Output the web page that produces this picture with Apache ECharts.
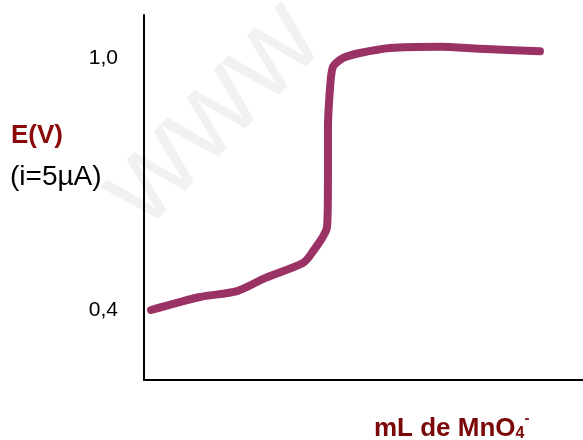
<!DOCTYPE html>
<html>
<head>
<meta charset="utf-8">
<script src="https://cdn.jsdelivr.net/npm/echarts@6/dist/echarts.min.js"></script>
<style>
  html, body { margin: 0; padding: 0; background: #fff; }
  #chart { width: 583px; height: 440px; }
</style>
</head>
<body>
<div id="chart"></div>
<script>
// volume de MnO4- (unités arbitraires) et potentiel E(V)
var volume = [0.32, 2.55, 4.24, 5.51, 7.24, 7.65, 8.34, 8.38, 8.38, 8.47, 8.61, 9.07, 9.84, 11.21, 13.49, 15.31, 18.04];
var potentiel = [0.400, 0.431, 0.445, 0.476, 0.512, 0.536, 0.598, 0.710, 0.829, 0.924, 0.979, 1.000, 1.012, 1.024, 1.027, 1.022, 1.016];
var yTicks = [0.4, 1.0];
var yTickLabels = ['0,4', '1,0'];

var points = volume.map(function (v, i) {
  return [v, potentiel[i]];
});

var font = 'Liberation Sans, Arial, sans-serif';
var myChart = echarts.init(document.getElementById('chart'), null, { renderer: 'canvas' });

myChart.setOption({
  backgroundColor: '#fff',
  animation: false,
  textStyle: { fontFamily: font },
  grid: { left: 144, right: 0, top: 15, bottom: 60 },
  xAxis: {
    type: 'value',
    min: 0,
    max: 20,
    axisLine: { show: true, lineStyle: { color: '#000', width: 2 } },
    axisTick: { show: false },
    axisLabel: { show: false },
    splitLine: { show: false }
  },
  yAxis: {
    type: 'value',
    min: 0.2333,
    max: 1.1024,
    axisLine: { show: true, lineStyle: { color: '#000', width: 2 } },
    axisTick: { show: false },
    splitLine: { show: false },
    axisLabel: {
      customValues: yTicks,
      margin: 26,
      fontSize: 21,
      color: '#000',
      formatter: function (val) {
        var i = yTicks.findIndex(function (t) { return Math.abs(t - val) < 1e-6; });
        return i >= 0 ? yTickLabels[i] : '';
      }
    }
  },
  graphic: [
    // filigrane
    {
      type: 'text',
      x: 165,
      y: 250,
      rotation: 0.8,
      z: -10,
      style: {
        text: 'www',
        fontSize: 120,
        fontFamily: font,
        fill: '#f1f1f1',
        verticalAlign: 'bottom'
      }
    },
    {
      type: 'text',
      left: 11,
      top: 123,
      style: {
        text: 'E(V)',
        fontSize: 26,
        fontWeight: 'bold',
        fontFamily: font,
        fill: '#8b0a0a'
      }
    },
    {
      type: 'text',
      left: 10,
      top: 163,
      style: {
        text: '(i=5µA)',
        fontSize: 28,
        fontFamily: font,
        fill: '#000'
      }
    },
    {
      type: 'text',
      left: 374,
      top: 411,
      style: {
        text: '{a|mL de MnO}{sub|4}{sup|-}',
        fontFamily: font,
        fill: '#7a0808',
        rich: {
          a: { fontSize: 26, fontWeight: 'bold', fill: '#7a0808', verticalAlign: 'bottom' },
          sub: { fontSize: 16, fontWeight: 'bold', fill: '#7a0808', padding: [12, 0, 0, 0], verticalAlign: 'bottom' },
          sup: { fontSize: 15, fontWeight: 'bold', fill: '#7a0808', padding: [0, 0, 16, 0], verticalAlign: 'bottom' }
        }
      }
    }
  ],
  series: [
    {
      type: 'line',
      data: points,
      smooth: 0.25,
      symbol: 'none',
      lineStyle: { color: '#9a3265', width: 8, cap: 'round', join: 'round' }
    }
  ]
});
</script>
</body>
</html>
